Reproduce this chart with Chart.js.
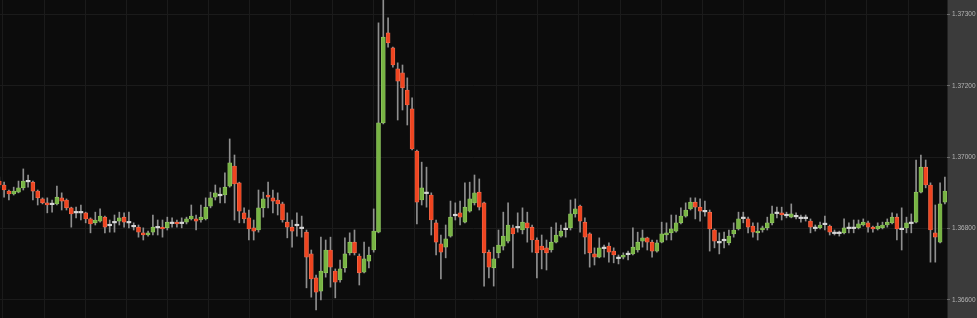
<!DOCTYPE html>
<html>
<head>
<meta charset="utf-8">
<script src="https://cdn.jsdelivr.net/npm/chart.js@4/dist/chart.umd.min.js"></script>
<style>
  html, body { margin: 0; padding: 0; background: #0c0c0c; overflow: hidden; }
  #wrap { width: 977px; height: 318px; position: relative; }
</style>
</head>
<body>
<div id="wrap"><canvas id="c" width="977" height="318"></canvas></div>
<script>
// ---- data ----
const opens = [
  1.36933,1.36922,1.36905,1.36897,1.36902,1.36914,1.36933,1.36930,1.36905,1.36883,
  1.36872,1.36869,1.36869,1.36886,1.36880,1.36858,1.36846,1.36846,1.36844,1.36827,
  1.36816,1.36821,1.36832,1.36810,1.36818,1.36821,1.36832,1.36818,1.36807,1.36804,
  1.36788,1.36782,1.36790,1.36804,1.36804,1.36802,1.36816,1.36818,1.36816,1.36818,
  1.36827,1.36827,1.36824,1.36827,1.36863,1.36888,1.36894,1.36894,1.36919,1.36975,
  1.36928,1.36844,1.36830,1.36802,1.36796,1.36858,1.36894,1.36886,1.36880,1.36869,
  1.36818,1.36804,1.36810,1.36802,1.36790,1.36729,1.36662,1.36625,1.36676,1.36740,
  1.36681,1.36656,1.36690,1.36732,1.36762,1.36723,1.36678,1.36709,1.36740,1.36790,
  1.37096,1.37348,1.37306,1.37247,1.37236,1.37188,1.37135,1.37017,1.36880,1.36900,
  1.36894,1.36816,1.36757,1.36748,1.36779,1.36838,1.36844,1.36818,1.36849,1.36872,
  1.36902,1.36872,1.36734,1.36690,1.36732,1.36751,1.36765,1.36802,1.36804,1.36796,
  1.36816,1.36804,1.36768,1.36751,1.36746,1.36740,1.36762,1.36779,1.36799,1.36802,
  1.36841,1.36863,1.36818,1.36785,1.36729,1.36720,1.36746,1.36751,1.36737,1.36718,
  1.36720,1.36729,1.36729,1.36740,1.36765,1.36774,1.36762,1.36737,1.36762,1.36782,
  1.36788,1.36793,1.36816,1.36835,1.36855,1.36874,1.36860,1.36849,1.36846,1.36796,
  1.36762,1.36768,1.36760,1.36785,1.36799,1.36830,1.36827,1.36807,1.36788,1.36796,
  1.36802,1.36816,1.36844,1.36844,1.36838,1.36832,1.36835,1.36830,1.36830,1.36821,
  1.36802,1.36802,1.36813,1.36807,1.36788,1.36788,1.36788,1.36802,1.36802,1.36802,
  1.36810,1.36816,1.36804,1.36799,1.36802,1.36810,1.36816,1.36832,1.36799,1.36802,
  1.36816,1.36818,1.36902,1.36972,1.36922,1.36788,1.36762,1.36874
];
const highs = [
  1.36944,1.36930,1.36908,1.36916,1.36933,1.36967,1.36950,1.36933,1.36908,1.36886,
  1.36886,1.36880,1.36919,1.36900,1.36883,1.36860,1.36860,1.36866,1.36846,1.36830,
  1.36846,1.36855,1.36835,1.36824,1.36838,1.36846,1.36844,1.36846,1.36816,1.36810,
  1.36802,1.36793,1.36838,1.36824,1.36824,1.36832,1.36830,1.36824,1.36830,1.36832,
  1.36866,1.36838,1.36866,1.36886,1.36902,1.36922,1.36914,1.36956,1.37051,1.37006,
  1.36930,1.36858,1.36852,1.36824,1.36908,1.36902,1.36930,1.36908,1.36900,1.36874,
  1.36844,1.36824,1.36844,1.36835,1.36796,1.36740,1.36670,1.36776,1.36768,1.36776,
  1.36687,1.36712,1.36774,1.36788,1.36796,1.36729,1.36762,1.36748,1.36855,1.37376,
  1.37445,1.37390,1.37308,1.37264,1.37258,1.37222,1.37166,1.37020,1.36986,1.36972,
  1.36900,1.36824,1.36782,1.36810,1.36877,1.36872,1.36877,1.36928,1.36930,1.36950,
  1.36939,1.36874,1.36740,1.36748,1.36796,1.36846,1.36872,1.36810,1.36844,1.36858,
  1.36846,1.36810,1.36774,1.36782,1.36768,1.36804,1.36816,1.36810,1.36816,1.36880,
  1.36883,1.36866,1.36830,1.36788,1.36746,1.36774,1.36754,1.36760,1.36746,1.36726,
  1.36732,1.36737,1.36802,1.36790,1.36796,1.36776,1.36768,1.36768,1.36818,1.36816,
  1.36838,1.36838,1.36858,1.36872,1.36886,1.36886,1.36883,1.36877,1.36852,1.36799,
  1.36788,1.36790,1.36796,1.36816,1.36846,1.36846,1.36832,1.36816,1.36816,1.36807,
  1.36832,1.36863,1.36860,1.36860,1.36846,1.36869,1.36844,1.36838,1.36838,1.36827,
  1.36810,1.36818,1.36835,1.36810,1.36796,1.36793,1.36827,1.36816,1.36824,1.36824,
  1.36827,1.36821,1.36807,1.36816,1.36818,1.36827,1.36844,1.36841,1.36858,1.36832,
  1.36841,1.36992,1.37006,1.36992,1.36928,1.36866,1.36928,1.36944
];
const lows = [
  1.36914,1.36888,1.36880,1.36894,1.36900,1.36908,1.36916,1.36880,1.36866,1.36869,
  1.36844,1.36846,1.36866,1.36852,1.36852,1.36804,1.36830,1.36824,1.36816,1.36788,
  1.36810,1.36818,1.36788,1.36790,1.36790,1.36810,1.36804,1.36802,1.36796,1.36776,
  1.36768,1.36779,1.36782,1.36782,1.36776,1.36796,1.36804,1.36804,1.36802,1.36813,
  1.36824,1.36796,1.36818,1.36824,1.36858,1.36880,1.36872,1.36872,1.36916,1.36824,
  1.36816,1.36816,1.36768,1.36768,1.36790,1.36832,1.36858,1.36844,1.36838,1.36818,
  1.36774,1.36748,1.36779,1.36776,1.36634,1.36608,1.36572,1.36600,1.36664,1.36636,
  1.36606,1.36650,1.36678,1.36726,1.36726,1.36642,1.36676,1.36690,1.36734,1.36788,
  1.37093,1.37308,1.37252,1.37104,1.37132,1.37090,1.37020,1.36813,1.36866,1.36860,
  1.36782,1.36726,1.36659,1.36718,1.36776,1.36824,1.36810,1.36816,1.36846,1.36866,
  1.36852,1.36639,1.36662,1.36639,1.36718,1.36740,1.36760,1.36690,1.36790,1.36785,
  1.36762,1.36734,1.36662,1.36687,1.36684,1.36734,1.36760,1.36776,1.36776,1.36796,
  1.36832,1.36790,1.36729,1.36692,1.36698,1.36718,1.36720,1.36706,1.36704,1.36701,
  1.36715,1.36712,1.36726,1.36734,1.36748,1.36740,1.36720,1.36734,1.36760,1.36768,
  1.36768,1.36790,1.36813,1.36832,1.36852,1.36827,1.36821,1.36835,1.36737,1.36746,
  1.36729,1.36746,1.36754,1.36776,1.36796,1.36816,1.36788,1.36776,1.36768,1.36790,
  1.36796,1.36810,1.36830,1.36824,1.36830,1.36830,1.36827,1.36818,1.36821,1.36788,
  1.36793,1.36799,1.36796,1.36782,1.36782,1.36779,1.36785,1.36788,1.36788,1.36799,
  1.36807,1.36790,1.36790,1.36796,1.36799,1.36804,1.36813,1.36768,1.36740,1.36788,
  1.36788,1.36816,1.36900,1.36914,1.36706,1.36706,1.36760,1.36869
];
const closes = [
  1.36922,1.36908,1.36897,1.36905,1.36914,1.36933,1.36933,1.36905,1.36886,1.36872,
  1.36866,1.36869,1.36888,1.36877,1.36858,1.36841,1.36846,1.36846,1.36827,1.36813,
  1.36824,1.36835,1.36804,1.36810,1.36818,1.36830,1.36818,1.36818,1.36807,1.36790,
  1.36782,1.36788,1.36804,1.36804,1.36799,1.36818,1.36816,1.36813,1.36816,1.36827,
  1.36835,1.36821,1.36832,1.36860,1.36886,1.36900,1.36894,1.36916,1.36984,1.36925,
  1.36849,1.36827,1.36799,1.36793,1.36858,1.36883,1.36888,1.36877,1.36869,1.36824,
  1.36804,1.36793,1.36810,1.36802,1.36720,1.36659,1.36622,1.36681,1.36740,1.36692,
  1.36650,1.36687,1.36729,1.36762,1.36732,1.36676,1.36715,1.36726,1.36793,1.37096,
  1.37336,1.37320,1.37258,1.37213,1.37194,1.37146,1.37023,1.36874,1.36914,1.36900,
  1.36824,1.36762,1.36734,1.36771,1.36832,1.36838,1.36832,1.36860,1.36883,1.36900,
  1.36860,1.36732,1.36692,1.36715,1.36754,1.36779,1.36810,1.36785,1.36804,1.36818,
  1.36802,1.36768,1.36732,1.36740,1.36732,1.36762,1.36782,1.36793,1.36799,1.36841,
  1.36855,1.36821,1.36776,1.36732,1.36720,1.36746,1.36746,1.36734,1.36726,1.36718,
  1.36726,1.36729,1.36748,1.36762,1.36774,1.36762,1.36737,1.36760,1.36785,1.36788,
  1.36799,1.36816,1.36835,1.36852,1.36874,1.36860,1.36849,1.36849,1.36799,1.36765,
  1.36762,1.36768,1.36779,1.36796,1.36827,1.36830,1.36804,1.36790,1.36793,1.36802,
  1.36816,1.36841,1.36844,1.36838,1.36838,1.36841,1.36835,1.36830,1.36830,1.36804,
  1.36802,1.36810,1.36813,1.36790,1.36788,1.36788,1.36802,1.36802,1.36802,1.36813,
  1.36818,1.36804,1.36799,1.36807,1.36810,1.36818,1.36832,1.36799,1.36799,1.36816,
  1.36816,1.36902,1.36972,1.36922,1.36796,1.36776,1.36869,1.36905
];
const yTickValues = [1.366, 1.368, 1.370, 1.372, 1.374];
const yTickLabels = ["1.36600", "1.36800", "1.37000", "1.37200", "1.37300"];

// ---- styling ----
const UP = '#78b444', UP_EDGE = '#96cc68';
const DOWN = '#ef4520', DOWN_EDGE = '#f6765a';
const DOJI = '#d6d6d6';
const WICK = '#8f8f8f';
const BG = '#0c0c0c', PANEL = '#3b3b3b', GRID = '#1b1b1b';
const DOJI_HALF = 0.000021;
const gridStart = 0.77, gridStep = 8.571;

const idx = opens.map((_, i) => i);
const kind = i => closes[i] > opens[i] ? 1 : (closes[i] < opens[i] ? -1 : 0);
const bodyData = idx.map(i => {
  const o = opens[i], c = closes[i];
  return o === c ? { x: i, y: [o - DOJI_HALF, o + DOJI_HALF] } : { x: i, y: [o, c] };
});
const wickData = idx.map(i => ({ x: i, y: [lows[i], highs[i]] }));

const bgPlugin = {
  id: 'bg',
  beforeDraw(chart) {
    const ctx = chart.ctx, y = chart.scales.y;
    ctx.save();
    ctx.fillStyle = BG;
    ctx.fillRect(0, 0, chart.width, chart.height);
    ctx.fillStyle = PANEL;
    ctx.fillRect(y.left, 0, chart.width - y.left, chart.height);
    ctx.fillStyle = '#222';
    ctx.fillRect(y.left, 0, 1, chart.height);
    ctx.restore();
  }
};

new Chart(document.getElementById('c'), {
  type: 'bar',
  data: {
    datasets: [
      {
        label: 'body',
        data: bodyData,
        order: 0,
        grouped: false,
        barThickness: 4,
        borderSkipped: false,
        borderWidth: idx.map(i => kind(i) === 0 ? 0 : 0.6),
        backgroundColor: idx.map(i => kind(i) > 0 ? UP : kind(i) < 0 ? DOWN : DOJI),
        borderColor: idx.map(i => kind(i) > 0 ? UP_EDGE : kind(i) < 0 ? DOWN_EDGE : DOJI)
      },
      {
        label: 'wick',
        data: wickData,
        order: 1,
        grouped: false,
        barThickness: 1,
        borderWidth: 0,
        backgroundColor: WICK
      }
    ]
  },
  options: {
    responsive: false,
    devicePixelRatio: 1,
    animation: false,
    events: [],
    layout: { padding: 0 },
    plugins: { legend: { display: false }, tooltip: { enabled: false } },
    scales: {
      x: {
        type: 'linear',
        min: 0.146,
        max: 197.44,
        offset: false,
        afterBuildTicks(s) {
          const t = [];
          for (let v = gridStart; v < s.max; v += gridStep) t.push({ value: v });
          s.ticks = t;
        },
        afterFit(s) { s.height = 0; s.paddingLeft = 0; s.paddingRight = 0; },
        grid: { color: GRID, offset: false, drawTicks: false, lineWidth: 1 },
        border: { display: false },
        ticks: { display: false }
      },
      y: {
        position: 'right',
        min: 1.365496,
        max: 1.3744,
        afterBuildTicks(s) { s.ticks = yTickValues.map(v => ({ value: v })); },
        afterFit(s) { s.width = 30; s.paddingTop = 0; s.paddingBottom = 0; },
        grid: { color: GRID, tickColor: '#6c6c6c', tickLength: 3, drawTicks: true },
        border: { display: false },
        ticks: {
          color: '#b4b4b4',
          padding: 2,
          font: { family: 'Liberation Sans, Arial, sans-serif', size: 6.5 },
          callback: (v, i) => yTickLabels[i]
        }
      }
    }
  },
  plugins: [bgPlugin]
});
</script>
</body>
</html>
